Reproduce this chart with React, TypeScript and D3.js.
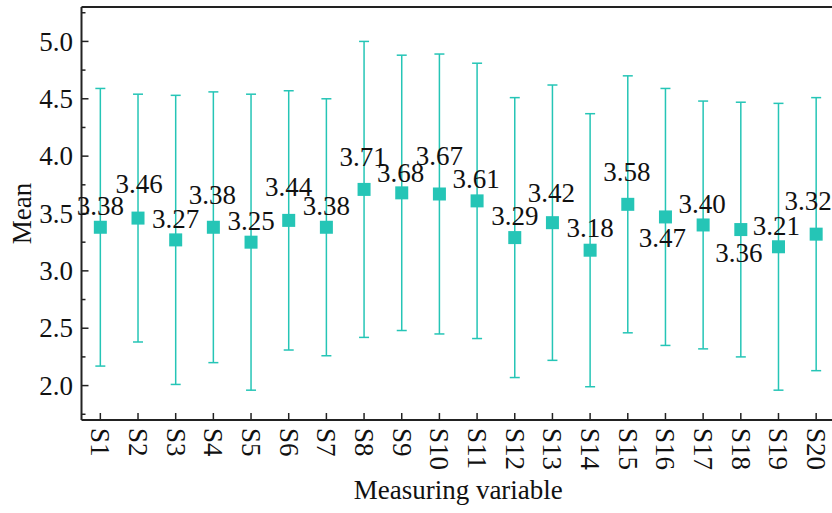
import { useEffect, useRef } from 'react';
import * as d3 from 'd3';

const variables = ['S1', 'S2', 'S3', 'S4', 'S5', 'S6', 'S7', 'S8', 'S9', 'S10',
    'S11', 'S12', 'S13', 'S14', 'S15', 'S16', 'S17', 'S18', 'S19', 'S20'];
const means = [3.38, 3.46, 3.27, 3.38, 3.25, 3.44, 3.38, 3.71, 3.68, 3.67,
    3.61, 3.29, 3.42, 3.18, 3.58, 3.47, 3.40, 3.36, 3.21, 3.32];
const upper = [4.59, 4.54, 4.53, 4.56, 4.54, 4.57, 4.50, 5.00, 4.88, 4.89,
    4.81, 4.51, 4.62, 4.37, 4.70, 4.59, 4.48, 4.47, 4.46, 4.51];
const lower = [2.17, 2.38, 2.01, 2.20, 1.96, 2.31, 2.26, 2.42, 2.48, 2.45,
    2.41, 2.07, 2.22, 1.99, 2.46, 2.35, 2.32, 2.25, 1.96, 2.13];
const yTicks = [2.0, 2.5, 3.0, 3.5, 4.0, 4.5, 5.0];

// label nudges (px) so the value labels don't collide
const labelDx = [0, 1, 0, -1, 0, 0, 0, -1, -1, 0, -1, 0, -1, 0, -1, -3, -1, -2, -2, -8];
const labelDy = [-12, -25, -12, -23, -12, -24, -12, -23, -11, -29, -13, -13, -21, -13, -23, 30, -12, 32, -12, -24];

const COLOR = '#25c5b6';
const FONT = '"Liberation Serif", "Times New Roman", serif';
const FS = '27px';

export default function App() {
    const svgRef = useRef<SVGSVGElement>(null);

    useEffect(() => {
        document.body.style.margin = '0';
        const svg = d3.select(svgRef.current);
        svg.selectAll('*').remove();

        const width = 832;
        const height = 513;
        const margin = { top: 7, right: -3, bottom: 93, left: 81.5 };

        const x = d3.scaleBand()
            .domain(variables)
            .range([margin.left, width - margin.right]);

        const y = d3.scaleLinear()
            .domain([1.7, 5.3])
            .range([height - margin.bottom, margin.top]);

        const cx = (i: number) => (x(variables[i]) as number) + x.bandwidth() / 2;

        const g = svg.append('g').style('font-family', FONT);

        // y axis minor + major ticks (inward)
        const minor = d3.range(1.75, 5.3, 0.25).filter((v) => Math.abs((v * 2) - Math.round(v * 2)) > 1e-6);
        g.append('g')
            .selectAll('line')
            .data(minor)
            .join('line')
            .attr('x1', margin.left)
            .attr('x2', margin.left + 4)
            .attr('y1', (d) => y(d))
            .attr('y2', (d) => y(d))
            .attr('stroke', '#222')
            .attr('stroke-width', 1.5);

        g.append('g')
            .selectAll('line')
            .data(yTicks)
            .join('line')
            .attr('x1', margin.left)
            .attr('x2', margin.left + 7)
            .attr('y1', (d) => y(d))
            .attr('y2', (d) => y(d))
            .attr('stroke', '#222')
            .attr('stroke-width', 1.5);

        g.append('g')
            .selectAll('text')
            .data(yTicks)
            .join('text')
            .attr('x', margin.left - 8.5)
            .attr('y', (d) => y(d))
            .attr('dy', '0.34em')
            .attr('text-anchor', 'end')
            .style('font-size', FS)
            .attr('fill', '#111')
            .text((d) => d.toFixed(1));

        // x ticks (inward) and rotated labels
        g.append('g')
            .selectAll('line')
            .data(variables)
            .join('line')
            .attr('x1', (d, i) => cx(i))
            .attr('x2', (d, i) => cx(i))
            .attr('y1', y(1.7))
            .attr('y2', y(1.7) - 7)
            .attr('stroke', '#222')
            .attr('stroke-width', 1.5);

        g.append('g')
            .selectAll('text')
            .data(variables)
            .join('text')
            .attr('transform', (d, i) => `translate(${cx(i)},${y(1.7) + 8}) rotate(90)`)
            .attr('dy', '0.34em')
            .attr('text-anchor', 'start')
            .style('font-size', FS)
            .attr('fill', '#111')
            .text((d) => d);

        // spines
        g.append('line')
            .attr('x1', margin.left).attr('x2', margin.left)
            .attr('y1', margin.top).attr('y2', height - margin.bottom)
            .attr('stroke', '#222').attr('stroke-width', 2);
        g.append('line')
            .attr('x1', margin.left).attr('x2', width - margin.right)
            .attr('y1', height - margin.bottom).attr('y2', height - margin.bottom)
            .attr('stroke', '#222').attr('stroke-width', 2);
        g.append('line')
            .attr('x1', margin.left).attr('x2', width - margin.right)
            .attr('y1', margin.top).attr('y2', margin.top)
            .attr('stroke', '#222').attr('stroke-width', 2);

        // error bars
        const eb = g.append('g')
            .attr('stroke', COLOR)
            .attr('stroke-width', 1.5);

        eb.selectAll('line.v')
            .data(means)
            .join('line')
            .attr('class', 'v')
            .attr('x1', (d, i) => cx(i))
            .attr('x2', (d, i) => cx(i))
            .attr('y1', (d, i) => y(lower[i]))
            .attr('y2', (d, i) => y(upper[i]));

        eb.selectAll('line.cu')
            .data(upper)
            .join('line')
            .attr('class', 'cu')
            .attr('x1', (d, i) => cx(i) - 5)
            .attr('x2', (d, i) => cx(i) + 5)
            .attr('y1', (d) => y(d))
            .attr('y2', (d) => y(d));

        eb.selectAll('line.cl')
            .data(lower)
            .join('line')
            .attr('class', 'cl')
            .attr('x1', (d, i) => cx(i) - 5)
            .attr('x2', (d, i) => cx(i) + 5)
            .attr('y1', (d) => y(d))
            .attr('y2', (d) => y(d));

        // markers
        const s = 13;
        g.append('g')
            .attr('fill', COLOR)
            .selectAll('rect')
            .data(means)
            .join('rect')
            .attr('x', (d, i) => cx(i) - s / 2)
            .attr('y', (d) => y(d) - s / 2)
            .attr('width', s)
            .attr('height', s);

        // value labels
        g.append('g')
            .selectAll('text')
            .data(means)
            .join('text')
            .attr('x', (d, i) => cx(i) + labelDx[i])
            .attr('y', (d, i) => y(d) + labelDy[i])
            .attr('text-anchor', 'middle')
            .style('font-size', FS)
            .attr('fill', '#111')
            .text((d) => d.toFixed(2));

        // axis titles
        g.append('text')
            .attr('transform', `translate(31,${(margin.top + height - margin.bottom) / 2}) rotate(-90)`)
            .attr('text-anchor', 'middle')
            .style('font-size', FS)
            .attr('fill', '#111')
            .text('Mean');

        g.append('text')
            .attr('x', (margin.left + width - margin.right) / 2)
            .attr('y', 499)
            .attr('text-anchor', 'middle')
            .style('font-size', FS)
            .attr('fill', '#111')
            .text('Measuring variable');
    }, []);

    return (
        <svg ref={svgRef} width={832} height={513} style={{ display: 'block' }} />
    );
}
